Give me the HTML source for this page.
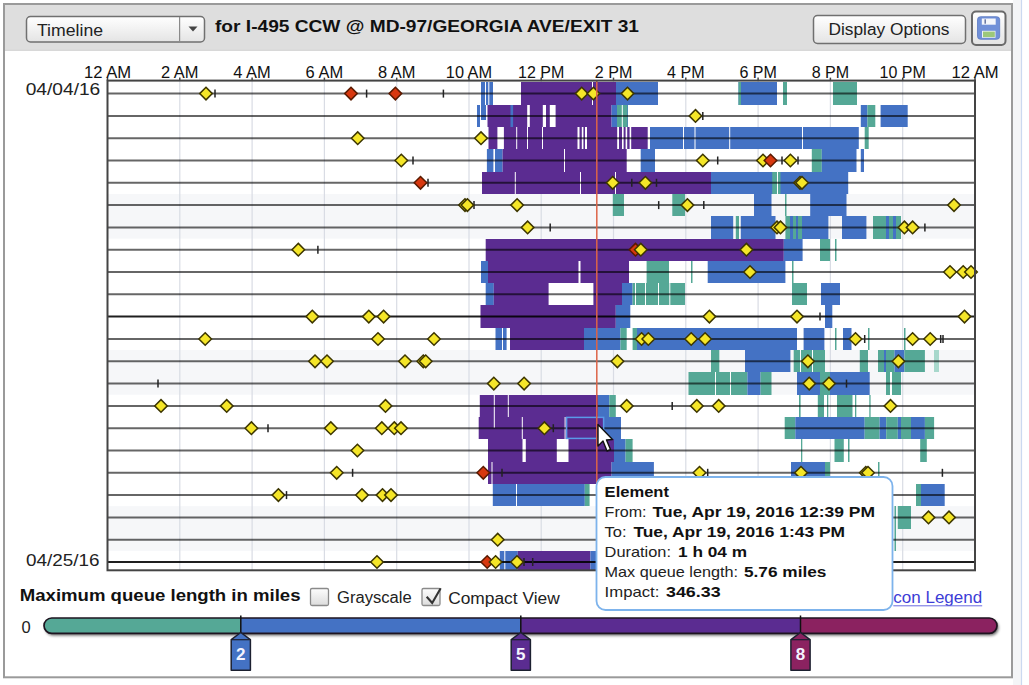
<!DOCTYPE html>
<html><head><meta charset="utf-8">
<style>
html,body{margin:0;padding:0;background:#fff;width:1029px;height:685px;overflow:hidden;}
body{position:relative;font-family:"Liberation Sans",sans-serif;}
svg{position:absolute;left:0;top:0;}
</style></head><body>
<svg width="1029" height="685" viewBox="0 0 1029 685">
<defs>
<linearGradient id="btn" x1="0" y1="0" x2="0" y2="1"><stop offset="0" stop-color="#ffffff"/><stop offset="1" stop-color="#e4e4e4"/></linearGradient>
<linearGradient id="cb" x1="0" y1="0" x2="0" y2="1"><stop offset="0" stop-color="#fdfdfd"/><stop offset="1" stop-color="#dcdcdc"/></linearGradient>
</defs>
<!-- outside right strip -->
<rect x="1013" y="0" width="8" height="685" fill="#f4f5f7"/>
<line x1="1021.5" y1="0" x2="1021.5" y2="685" stroke="#cbd9f0" stroke-width="1.2"/>
<!-- panel -->
<rect x="4" y="4" width="1008" height="673.3" fill="#fff" stroke="#9a9a9a" stroke-width="2"/>
<rect x="5" y="5" width="1006" height="45" fill="#dedede"/>
<line x1="5" y1="50.3" x2="1011" y2="50.3" stroke="#cfcfcf" stroke-width="1"/>
<!-- dropdown -->
<rect x="26.5" y="16.5" width="178" height="25.5" rx="4" fill="url(#btn)" stroke="#707070" stroke-width="1.5"/>
<line x1="179.6" y1="17" x2="179.6" y2="41.5" stroke="#8a8a8a" stroke-width="1.2"/>
<path d="M188.5 26.5 L197.5 26.5 L193 31.5 Z" fill="#444"/>
<text x="37" y="35.5" font-size="15.8" fill="#222" textLength="66" lengthAdjust="spacingAndGlyphs" font-family="Liberation Sans, sans-serif">Timeline</text>
<text x="215" y="32.2" font-size="16" font-weight="bold" fill="#111" textLength="424" lengthAdjust="spacingAndGlyphs" font-family="Liberation Sans, sans-serif">for I-495 CCW @ MD-97/GEORGIA AVE/EXIT 31</text>
<!-- display options -->
<rect x="813.5" y="15.5" width="152" height="28" rx="4" fill="url(#btn)" stroke="#707070" stroke-width="1.5"/>
<text x="828.5" y="34.5" font-size="15.8" fill="#222" textLength="121" lengthAdjust="spacingAndGlyphs" font-family="Liberation Sans, sans-serif">Display Options</text>
<!-- save -->
<rect x="972" y="11.5" width="33.5" height="33.5" rx="4" fill="url(#btn)" stroke="#6a6a6a" stroke-width="2"/>
<rect x="977.5" y="16.7" width="22.2" height="22.6" rx="3" fill="#7090d8" stroke="#5a78c4" stroke-width="0.8"/>
<rect x="981.8" y="18.5" width="13.9" height="6.2" fill="#f4f6fb"/>
<rect x="984.5" y="19.3" width="1.4" height="4.4" fill="#5a6a9a"/>
<rect x="982" y="30.8" width="13.5" height="7" fill="#eef3f8"/>
<rect x="983" y="31.6" width="11.8" height="5.5" fill="#9cc87a"/>
<!-- chart -->
<rect x="107.5" y="194.0" width="867.5" height="44.6" fill="#f6f7f9"/>
<rect x="107.5" y="350.1" width="867.5" height="44.6" fill="#f6f7f9"/>
<rect x="107.5" y="506.2" width="867.5" height="44.6" fill="#f6f7f9"/>
<line x1="179.8" y1="80.6" x2="179.8" y2="570.3" stroke="#d9dce4" stroke-width="1.2"/>
<line x1="252.1" y1="80.6" x2="252.1" y2="570.3" stroke="#d9dce4" stroke-width="1.2"/>
<line x1="324.4" y1="80.6" x2="324.4" y2="570.3" stroke="#d9dce4" stroke-width="1.2"/>
<line x1="396.7" y1="80.6" x2="396.7" y2="570.3" stroke="#d9dce4" stroke-width="1.2"/>
<line x1="469.0" y1="80.6" x2="469.0" y2="570.3" stroke="#d9dce4" stroke-width="1.2"/>
<line x1="541.2" y1="80.6" x2="541.2" y2="570.3" stroke="#d9dce4" stroke-width="1.2"/>
<line x1="613.5" y1="80.6" x2="613.5" y2="570.3" stroke="#d9dce4" stroke-width="1.2"/>
<line x1="685.8" y1="80.6" x2="685.8" y2="570.3" stroke="#d9dce4" stroke-width="1.2"/>
<line x1="758.1" y1="80.6" x2="758.1" y2="570.3" stroke="#d9dce4" stroke-width="1.2"/>
<line x1="830.4" y1="80.6" x2="830.4" y2="570.3" stroke="#d9dce4" stroke-width="1.2"/>
<line x1="902.7" y1="80.6" x2="902.7" y2="570.3" stroke="#d9dce4" stroke-width="1.2"/>
<rect x="481" y="82.0" width="12.0" height="23.0" fill="#4472c4"/>
<rect x="485" y="82.0" width="1.0" height="23.0" fill="#ffffff"/>
<rect x="488.3" y="82.0" width="1.0" height="23.0" fill="#ffffff"/>
<rect x="521" y="82.0" width="95.0" height="23.0" fill="#5b2c91"/>
<rect x="592" y="82.0" width="1.0" height="23.0" fill="#ffffff"/>
<rect x="616" y="82.0" width="42.0" height="23.0" fill="#4472c4"/>
<rect x="738.5" y="82.0" width="38.5" height="23.0" fill="#4472c4"/>
<rect x="738.5" y="82.0" width="2.5" height="23.0" fill="#55a896"/>
<rect x="783" y="82.0" width="4.0" height="23.0" fill="#55a896"/>
<rect x="833" y="82.0" width="24.0" height="23.0" fill="#55a896"/>
<rect x="477" y="105.0" width="3.0" height="22.0" fill="#4472c4"/>
<rect x="481" y="105.0" width="5.0" height="15.0" fill="#4472c4"/>
<rect x="487.5" y="105.0" width="124.1" height="22.0" fill="#5b2c91"/>
<rect x="510.5" y="105.0" width="2.6" height="22.0" fill="#4472c4"/>
<rect x="527.2" y="105.0" width="2.6" height="22.0" fill="#ffffff"/>
<rect x="542.8" y="105.0" width="3.2" height="22.0" fill="#ffffff"/>
<rect x="549.8" y="105.0" width="5.8" height="22.0" fill="#ffffff"/>
<rect x="611.6" y="105.0" width="16.4" height="22.0" fill="#4472c4"/>
<rect x="617" y="105.0" width="10.5" height="22.0" fill="#55a896"/>
<rect x="621.8" y="105.0" width="1.0" height="22.0" fill="#ffffff"/>
<rect x="860.8" y="105.0" width="6.6" height="22.0" fill="#4472c4"/>
<rect x="867.4" y="105.0" width="7.9" height="22.0" fill="#55a896"/>
<rect x="880.6" y="105.0" width="27.1" height="22.0" fill="#4472c4"/>
<rect x="488.5" y="127.0" width="159.2" height="22.0" fill="#5b2c91"/>
<rect x="497.4" y="127.0" width="6.5" height="22.0" fill="#ffffff"/>
<rect x="516.2" y="127.0" width="1.0" height="22.0" fill="#ffffff"/>
<rect x="527" y="127.0" width="1.0" height="22.0" fill="#ffffff"/>
<rect x="542" y="127.0" width="1.0" height="22.0" fill="#ffffff"/>
<rect x="577.5" y="127.0" width="2.0" height="22.0" fill="#ffffff"/>
<rect x="581.8" y="127.0" width="1.6" height="22.0" fill="#ffffff"/>
<rect x="585" y="127.0" width="2.0" height="22.0" fill="#ffffff"/>
<rect x="617.2" y="127.0" width="1.8" height="22.0" fill="#ffffff"/>
<rect x="622" y="127.0" width="1.6" height="22.0" fill="#ffffff"/>
<rect x="625.6" y="127.0" width="1.6" height="22.0" fill="#ffffff"/>
<rect x="629.6" y="127.0" width="1.6" height="22.0" fill="#ffffff"/>
<rect x="650" y="127.0" width="208.8" height="22.0" fill="#4472c4"/>
<rect x="683" y="127.0" width="1.0" height="22.0" fill="#ffffff"/>
<rect x="694.5" y="127.0" width="1.0" height="22.0" fill="#ffffff"/>
<rect x="729.2" y="127.0" width="1.0" height="22.0" fill="#ffffff"/>
<rect x="802" y="127.0" width="1.0" height="22.0" fill="#ffffff"/>
<rect x="864.7" y="127.0" width="4.0" height="22.0" fill="#55a896"/>
<rect x="486.9" y="149.0" width="15.7" height="23.0" fill="#4472c4"/>
<rect x="493.4" y="149.0" width="1.6" height="23.0" fill="#ffffff"/>
<rect x="502.6" y="149.0" width="124.1" height="23.0" fill="#5b2c91"/>
<rect x="564" y="149.0" width="1.0" height="23.0" fill="#ffffff"/>
<rect x="640.7" y="149.0" width="14.3" height="23.0" fill="#4472c4"/>
<rect x="811.8" y="149.0" width="10.0" height="23.0" fill="#55a896"/>
<rect x="821.8" y="149.0" width="34.7" height="23.0" fill="#4472c4"/>
<rect x="860.8" y="149.0" width="3.2" height="23.0" fill="#4472c4"/>
<rect x="482" y="172.0" width="229.0" height="22.0" fill="#5b2c91"/>
<rect x="514.8" y="172.0" width="1.0" height="22.0" fill="#ffffff"/>
<rect x="580" y="172.0" width="1.0" height="22.0" fill="#ffffff"/>
<rect x="615" y="172.0" width="1.0" height="22.0" fill="#ffffff"/>
<rect x="711" y="172.0" width="137.2" height="22.0" fill="#4472c4"/>
<rect x="772.2" y="172.0" width="8.3" height="22.0" fill="#55a896"/>
<rect x="777" y="172.0" width="1.0" height="22.0" fill="#ffffff"/>
<rect x="612.8" y="194.0" width="11.2" height="22.0" fill="#55a896"/>
<rect x="672.3" y="194.0" width="12.7" height="22.0" fill="#55a896"/>
<rect x="754" y="194.0" width="17.5" height="22.0" fill="#4472c4"/>
<rect x="785" y="194.0" width="1.5" height="22.0" fill="#55a896"/>
<rect x="810.2" y="194.0" width="36.3" height="22.0" fill="#4472c4"/>
<rect x="711" y="216.0" width="22.2" height="23.0" fill="#4472c4"/>
<rect x="735.8" y="216.0" width="3.2" height="23.0" fill="#55a896"/>
<rect x="740.8" y="216.0" width="34.7" height="23.0" fill="#4472c4"/>
<rect x="785.4" y="216.0" width="16.6" height="23.0" fill="#55a896"/>
<rect x="790" y="216.0" width="3.0" height="23.0" fill="#4472c4"/>
<rect x="796" y="216.0" width="2.0" height="23.0" fill="#4472c4"/>
<rect x="802" y="216.0" width="26.4" height="23.0" fill="#4472c4"/>
<rect x="842" y="216.0" width="24.4" height="23.0" fill="#4472c4"/>
<rect x="873" y="216.0" width="28.0" height="23.0" fill="#55a896"/>
<rect x="886" y="216.0" width="3.0" height="23.0" fill="#4472c4"/>
<rect x="893" y="216.0" width="3.0" height="23.0" fill="#4472c4"/>
<rect x="485.7" y="239.0" width="298.1" height="22.0" fill="#5b2c91"/>
<rect x="783.8" y="239.0" width="18.8" height="22.0" fill="#4472c4"/>
<rect x="820" y="239.0" width="10.0" height="22.0" fill="#55a896"/>
<rect x="835" y="239.0" width="1.5" height="22.0" fill="#55a896"/>
<rect x="481" y="261.0" width="7.0" height="22.0" fill="#4472c4"/>
<rect x="488" y="261.0" width="141.0" height="22.0" fill="#5b2c91"/>
<rect x="578.5" y="261.0" width="2.0" height="22.0" fill="#ffffff"/>
<rect x="646.6" y="261.0" width="22.4" height="22.0" fill="#55a896"/>
<rect x="691" y="261.0" width="1.5" height="22.0" fill="#55a896"/>
<rect x="707.7" y="261.0" width="77.7" height="22.0" fill="#4472c4"/>
<rect x="792" y="261.0" width="1.5" height="22.0" fill="#55a896"/>
<rect x="485.7" y="283.0" width="8.1" height="22.0" fill="#4472c4"/>
<rect x="493.8" y="283.0" width="132.9" height="22.0" fill="#5b2c91"/>
<rect x="548.6" y="283.0" width="44.8" height="22.0" fill="#ffffff"/>
<rect x="622" y="283.0" width="10.6" height="22.0" fill="#4472c4"/>
<rect x="632.6" y="283.0" width="52.4" height="22.0" fill="#55a896"/>
<rect x="635" y="283.0" width="1.0" height="22.0" fill="#ffffff"/>
<rect x="645" y="283.0" width="1.0" height="22.0" fill="#ffffff"/>
<rect x="658" y="283.0" width="1.0" height="22.0" fill="#ffffff"/>
<rect x="669.3" y="283.0" width="1.0" height="22.0" fill="#ffffff"/>
<rect x="792" y="283.0" width="15.0" height="22.0" fill="#55a896"/>
<rect x="821" y="283.0" width="19.0" height="22.0" fill="#4472c4"/>
<rect x="480.5" y="305.0" width="135.3" height="23.0" fill="#5b2c91"/>
<rect x="615.8" y="305.0" width="14.5" height="23.0" fill="#4472c4"/>
<rect x="825" y="305.0" width="7.3" height="23.0" fill="#4472c4"/>
<rect x="495.5" y="328.0" width="11.1" height="22.0" fill="#4472c4"/>
<rect x="502" y="328.0" width="1.0" height="22.0" fill="#ffffff"/>
<rect x="510" y="328.0" width="74.0" height="22.0" fill="#5b2c91"/>
<rect x="584" y="328.0" width="36.5" height="22.0" fill="#4472c4"/>
<rect x="620.5" y="328.0" width="6.2" height="22.0" fill="#55a896"/>
<rect x="632.6" y="328.0" width="4.4" height="22.0" fill="#55a896"/>
<rect x="637" y="328.0" width="160.0" height="22.0" fill="#4472c4"/>
<rect x="803.6" y="328.0" width="20.8" height="22.0" fill="#4472c4"/>
<rect x="835" y="328.0" width="1.5" height="22.0" fill="#55a896"/>
<rect x="843" y="328.0" width="8.5" height="22.0" fill="#4472c4"/>
<rect x="868" y="328.0" width="1.5" height="22.0" fill="#55a896"/>
<rect x="904" y="328.0" width="1.5" height="22.0" fill="#55a896"/>
<rect x="711" y="350.0" width="8.3" height="22.0" fill="#55a896"/>
<rect x="745" y="350.0" width="45.4" height="22.0" fill="#4472c4"/>
<rect x="793.7" y="350.0" width="31.3" height="22.0" fill="#55a896"/>
<rect x="800" y="350.0" width="1.0" height="22.0" fill="#ffffff"/>
<rect x="812" y="350.0" width="1.0" height="22.0" fill="#ffffff"/>
<rect x="859.8" y="350.0" width="8.2" height="22.0" fill="#55a896"/>
<rect x="878" y="350.0" width="16.5" height="22.0" fill="#55a896"/>
<rect x="884" y="350.0" width="2.0" height="22.0" fill="#4472c4"/>
<rect x="894.5" y="350.0" width="9.9" height="22.0" fill="#4472c4"/>
<rect x="904.4" y="350.0" width="20.5" height="22.0" fill="#55a896"/>
<rect x="934" y="350.0" width="5.0" height="22.0" fill="#a8d8cc"/>
<rect x="688.5" y="372.0" width="58.9" height="23.0" fill="#55a896"/>
<rect x="715" y="372.0" width="1.0" height="23.0" fill="#ffffff"/>
<rect x="730" y="372.0" width="1.0" height="23.0" fill="#ffffff"/>
<rect x="747.4" y="372.0" width="13.2" height="23.0" fill="#4472c4"/>
<rect x="760.6" y="372.0" width="10.9" height="23.0" fill="#55a896"/>
<rect x="797" y="372.0" width="23.0" height="23.0" fill="#4472c4"/>
<rect x="820" y="372.0" width="10.0" height="23.0" fill="#55a896"/>
<rect x="830" y="372.0" width="39.7" height="23.0" fill="#4472c4"/>
<rect x="886" y="372.0" width="15.0" height="23.0" fill="#55a896"/>
<rect x="890" y="372.0" width="2.0" height="23.0" fill="#ffffff"/>
<rect x="479.8" y="395.0" width="118.2" height="22.0" fill="#5b2c91"/>
<rect x="493.8" y="395.0" width="1.0" height="22.0" fill="#ffffff"/>
<rect x="507.8" y="395.0" width="1.0" height="22.0" fill="#ffffff"/>
<rect x="598" y="395.0" width="11.3" height="22.0" fill="#4472c4"/>
<rect x="609.3" y="395.0" width="6.5" height="22.0" fill="#55a896"/>
<rect x="799" y="395.0" width="1.6" height="22.0" fill="#55a896"/>
<rect x="817.8" y="395.0" width="6.2" height="22.0" fill="#55a896"/>
<rect x="827" y="395.0" width="1.3" height="22.0" fill="#55a896"/>
<rect x="837" y="395.0" width="15.5" height="22.0" fill="#55a896"/>
<rect x="855" y="395.0" width="1.3" height="22.0" fill="#55a896"/>
<rect x="869.3" y="395.0" width="1.3" height="22.0" fill="#55a896"/>
<rect x="478.7" y="417.0" width="125.3" height="22.0" fill="#5b2c91"/>
<rect x="564.6" y="417.0" width="1.0" height="22.0" fill="#ffffff"/>
<rect x="493.8" y="417.0" width="1.0" height="11.0" fill="#ffffff"/>
<rect x="521.8" y="417.0" width="1.0" height="22.0" fill="#ffffff"/>
<rect x="604" y="417.0" width="17.0" height="22.0" fill="#4472c4"/>
<rect x="784.7" y="417.0" width="10.6" height="22.0" fill="#55a896"/>
<rect x="795.3" y="417.0" width="69.4" height="22.0" fill="#4472c4"/>
<rect x="864.7" y="417.0" width="14.9" height="22.0" fill="#55a896"/>
<rect x="879.6" y="417.0" width="6.6" height="22.0" fill="#4472c4"/>
<rect x="886.2" y="417.0" width="11.6" height="22.0" fill="#55a896"/>
<rect x="897.8" y="417.0" width="3.2" height="22.0" fill="#4472c4"/>
<rect x="901" y="417.0" width="10.0" height="22.0" fill="#55a896"/>
<rect x="911" y="417.0" width="13.9" height="22.0" fill="#4472c4"/>
<rect x="924.9" y="417.0" width="9.2" height="22.0" fill="#55a896"/>
<rect x="488" y="439.0" width="126.0" height="23.0" fill="#5b2c91"/>
<rect x="522.5" y="439.0" width="3.3" height="23.0" fill="#ffffff"/>
<rect x="556.8" y="439.0" width="11.7" height="23.0" fill="#ffffff"/>
<rect x="614" y="439.0" width="11.6" height="23.0" fill="#4472c4"/>
<rect x="625.6" y="439.0" width="7.0" height="23.0" fill="#55a896"/>
<rect x="801" y="439.0" width="1.3" height="23.0" fill="#55a896"/>
<rect x="834.5" y="439.0" width="9.3" height="23.0" fill="#55a896"/>
<rect x="848" y="439.0" width="1.5" height="23.0" fill="#55a896"/>
<rect x="920.2" y="439.0" width="6.6" height="23.0" fill="#55a896"/>
<rect x="488" y="462.0" width="123.6" height="22.0" fill="#5b2c91"/>
<rect x="491.5" y="462.0" width="1.0" height="22.0" fill="#ffffff"/>
<rect x="611.6" y="462.0" width="42.3" height="22.0" fill="#4472c4"/>
<rect x="791" y="462.0" width="34.0" height="22.0" fill="#4472c4"/>
<rect x="825" y="462.0" width="5.0" height="22.0" fill="#55a896"/>
<rect x="878" y="462.0" width="1.5" height="22.0" fill="#55a896"/>
<rect x="492.8" y="484.0" width="92.0" height="22.0" fill="#4472c4"/>
<rect x="516" y="484.0" width="1.0" height="22.0" fill="#ffffff"/>
<rect x="584.8" y="484.0" width="4.8" height="22.0" fill="#55a896"/>
<rect x="916" y="484.0" width="5.0" height="22.0" fill="#55a896"/>
<rect x="921" y="484.0" width="23.7" height="22.0" fill="#4472c4"/>
<rect x="897.8" y="506.0" width="13.2" height="23.0" fill="#55a896"/>
<rect x="894.5" y="506.0" width="1.5" height="23.0" fill="#55a896"/>
<rect x="894.5" y="529.0" width="1.5" height="22.0" fill="#55a896"/>
<rect x="499.8" y="551.0" width="18.0" height="19.3" fill="#4472c4"/>
<rect x="504.3" y="551.0" width="1.0" height="19.3" fill="#ffffff"/>
<rect x="517.8" y="551.0" width="72.6" height="19.3" fill="#5b2c91"/>
<rect x="590.4" y="551.0" width="5.6" height="19.3" fill="#4472c4"/>
<line x1="107.5" y1="93.6" x2="975.0" y2="93.6" stroke="#000" stroke-opacity="0.6" stroke-width="2"/>
<line x1="107.5" y1="115.9" x2="975.0" y2="115.9" stroke="#000" stroke-opacity="0.6" stroke-width="2"/>
<line x1="107.5" y1="138.2" x2="975.0" y2="138.2" stroke="#000" stroke-opacity="0.6" stroke-width="2"/>
<line x1="107.5" y1="160.5" x2="975.0" y2="160.5" stroke="#000" stroke-opacity="0.6" stroke-width="2"/>
<line x1="107.5" y1="182.8" x2="975.0" y2="182.8" stroke="#000" stroke-opacity="0.6" stroke-width="2"/>
<line x1="107.5" y1="205.1" x2="975.0" y2="205.1" stroke="#000" stroke-opacity="0.6" stroke-width="2"/>
<line x1="107.5" y1="227.4" x2="975.0" y2="227.4" stroke="#000" stroke-opacity="0.6" stroke-width="2"/>
<line x1="107.5" y1="249.7" x2="975.0" y2="249.7" stroke="#000" stroke-opacity="0.6" stroke-width="2"/>
<line x1="107.5" y1="272.0" x2="975.0" y2="272.0" stroke="#000" stroke-opacity="0.6" stroke-width="2"/>
<line x1="107.5" y1="294.3" x2="975.0" y2="294.3" stroke="#000" stroke-opacity="0.6" stroke-width="2"/>
<line x1="107.5" y1="316.6" x2="975.0" y2="316.6" stroke="#000" stroke-opacity="0.88" stroke-width="2"/>
<line x1="107.5" y1="339.0" x2="975.0" y2="339.0" stroke="#000" stroke-opacity="0.6" stroke-width="2"/>
<line x1="107.5" y1="361.3" x2="975.0" y2="361.3" stroke="#000" stroke-opacity="0.6" stroke-width="2"/>
<line x1="107.5" y1="383.6" x2="975.0" y2="383.6" stroke="#000" stroke-opacity="0.6" stroke-width="2"/>
<line x1="107.5" y1="405.9" x2="975.0" y2="405.9" stroke="#000" stroke-opacity="0.6" stroke-width="2"/>
<line x1="107.5" y1="428.2" x2="975.0" y2="428.2" stroke="#000" stroke-opacity="0.6" stroke-width="2"/>
<line x1="107.5" y1="450.5" x2="975.0" y2="450.5" stroke="#000" stroke-opacity="0.6" stroke-width="2"/>
<line x1="107.5" y1="472.8" x2="975.0" y2="472.8" stroke="#000" stroke-opacity="0.6" stroke-width="2"/>
<line x1="107.5" y1="495.1" x2="975.0" y2="495.1" stroke="#000" stroke-opacity="0.6" stroke-width="2"/>
<line x1="107.5" y1="517.4" x2="975.0" y2="517.4" stroke="#000" stroke-opacity="0.6" stroke-width="2"/>
<line x1="107.5" y1="539.7" x2="975.0" y2="539.7" stroke="#000" stroke-opacity="0.6" stroke-width="2"/>
<line x1="107.5" y1="562.0" x2="975.0" y2="562.0" stroke="#000" stroke-opacity="0.88" stroke-width="2"/>
<rect x="566.6" y="417.4" width="37" height="21" fill="none" stroke="#5a9ae8" stroke-width="1.5"/>
<line x1="215" y1="89.6" x2="215" y2="97.6" stroke="#222" stroke-width="1.5"/>
<line x1="366.6" y1="89.6" x2="366.6" y2="97.6" stroke="#222" stroke-width="1.5"/>
<line x1="443.4" y1="89.6" x2="443.4" y2="97.6" stroke="#222" stroke-width="1.5"/>
<path d="M206 87.3L212.3 93.6L206 99.9L199.7 93.6Z" fill="#f5e628" stroke="#3d3600" stroke-width="1.5"/>
<path d="M351 87.3L357.3 93.6L351 99.9L344.7 93.6Z" fill="#d8380f" stroke="#5a1a00" stroke-width="1.5"/>
<path d="M395.4 87.3L401.7 93.6L395.4 99.9L389.09999999999997 93.6Z" fill="#d8380f" stroke="#5a1a00" stroke-width="1.5"/>
<path d="M581.7 87.3L588.0 93.6L581.7 99.9L575.4000000000001 93.6Z" fill="#f5e628" stroke="#3d3600" stroke-width="1.5"/>
<path d="M593.4 87.3L599.6999999999999 93.6L593.4 99.9L587.1 93.6Z" fill="#f5e628" stroke="#3d3600" stroke-width="1.5"/>
<path d="M627.5 87.3L633.8 93.6L627.5 99.9L621.2 93.6Z" fill="#f5e628" stroke="#3d3600" stroke-width="1.5"/>
<line x1="702.8" y1="111.9" x2="702.8" y2="119.9" stroke="#222" stroke-width="1.5"/>
<path d="M695.5 109.6L701.8 115.9L695.5 122.2L689.2 115.9Z" fill="#f5e628" stroke="#3d3600" stroke-width="1.5"/>
<path d="M357.7 131.9L364.0 138.2L357.7 144.5L351.4 138.2Z" fill="#f5e628" stroke="#3d3600" stroke-width="1.5"/>
<path d="M481 131.9L487.3 138.2L481 144.5L474.7 138.2Z" fill="#f5e628" stroke="#3d3600" stroke-width="1.5"/>
<line x1="413" y1="156.5" x2="413" y2="164.5" stroke="#222" stroke-width="1.5"/>
<line x1="717.7" y1="156.5" x2="717.7" y2="164.5" stroke="#222" stroke-width="1.5"/>
<line x1="782" y1="156.5" x2="782" y2="164.5" stroke="#222" stroke-width="1.5"/>
<line x1="798" y1="156.5" x2="798" y2="164.5" stroke="#222" stroke-width="1.5"/>
<path d="M401.3 154.2L407.6 160.5L401.3 166.8L395.0 160.5Z" fill="#f5e628" stroke="#3d3600" stroke-width="1.5"/>
<path d="M702.8 154.2L709.0999999999999 160.5L702.8 166.8L696.5 160.5Z" fill="#f5e628" stroke="#3d3600" stroke-width="1.5"/>
<path d="M763 154.2L769.3 160.5L763 166.8L756.7 160.5Z" fill="#f5e628" stroke="#3d3600" stroke-width="1.5"/>
<path d="M770.5 154.2L776.8 160.5L770.5 166.8L764.2 160.5Z" fill="#d8380f" stroke="#5a1a00" stroke-width="1.5"/>
<path d="M790.4 154.2L796.6999999999999 160.5L790.4 166.8L784.1 160.5Z" fill="#f5e628" stroke="#3d3600" stroke-width="1.5"/>
<line x1="428" y1="178.8" x2="428" y2="186.8" stroke="#222" stroke-width="1.5"/>
<line x1="631.8" y1="178.8" x2="631.8" y2="186.8" stroke="#222" stroke-width="1.5"/>
<line x1="656.5" y1="178.8" x2="656.5" y2="186.8" stroke="#222" stroke-width="1.5"/>
<path d="M420.5 176.5L426.8 182.8L420.5 189.1L414.2 182.8Z" fill="#d8380f" stroke="#5a1a00" stroke-width="1.5"/>
<path d="M612.7 176.5L619.0 182.8L612.7 189.1L606.4000000000001 182.8Z" fill="#f5e628" stroke="#3d3600" stroke-width="1.5"/>
<path d="M645.4 176.5L651.6999999999999 182.8L645.4 189.1L639.1 182.8Z" fill="#f5e628" stroke="#3d3600" stroke-width="1.5"/>
<path d="M800 176.5L806.3 182.8L800 189.1L793.7 182.8Z" fill="#f5e628" stroke="#3d3600" stroke-width="1.5"/>
<path d="M802 176.5L808.3 182.8L802 189.1L795.7 182.8Z" fill="#f5e628" stroke="#3d3600" stroke-width="1.5"/>
<line x1="474" y1="201.1" x2="474" y2="209.1" stroke="#222" stroke-width="1.5"/>
<line x1="658.7" y1="201.1" x2="658.7" y2="209.1" stroke="#222" stroke-width="1.5"/>
<line x1="703.8" y1="201.1" x2="703.8" y2="209.1" stroke="#222" stroke-width="1.5"/>
<path d="M465 198.8L471.3 205.1L465 211.4L458.7 205.1Z" fill="#f5e628" stroke="#3d3600" stroke-width="1.5"/>
<path d="M467.4 198.8L473.7 205.1L467.4 211.4L461.09999999999997 205.1Z" fill="#f5e628" stroke="#3d3600" stroke-width="1.5"/>
<path d="M517.1 198.8L523.4 205.1L517.1 211.4L510.8 205.1Z" fill="#f5e628" stroke="#3d3600" stroke-width="1.5"/>
<path d="M687.4 198.8L693.6999999999999 205.1L687.4 211.4L681.1 205.1Z" fill="#f5e628" stroke="#3d3600" stroke-width="1.5"/>
<path d="M954 198.8L960.3 205.1L954 211.4L947.7 205.1Z" fill="#f5e628" stroke="#3d3600" stroke-width="1.5"/>
<line x1="550.2" y1="223.4" x2="550.2" y2="231.4" stroke="#222" stroke-width="1.5"/>
<line x1="924.9" y1="223.4" x2="924.9" y2="231.4" stroke="#222" stroke-width="1.5"/>
<path d="M527.6 221.1L533.9 227.4L527.6 233.7L521.3000000000001 227.4Z" fill="#f5e628" stroke="#3d3600" stroke-width="1.5"/>
<path d="M777 221.1L783.3 227.4L777 233.7L770.7 227.4Z" fill="#f5e628" stroke="#3d3600" stroke-width="1.5"/>
<path d="M780.5 221.1L786.8 227.4L780.5 233.7L774.2 227.4Z" fill="#f5e628" stroke="#3d3600" stroke-width="1.5"/>
<path d="M904.4 221.1L910.6999999999999 227.4L904.4 233.7L898.1 227.4Z" fill="#f5e628" stroke="#3d3600" stroke-width="1.5"/>
<path d="M912.6 221.1L918.9 227.4L912.6 233.7L906.3000000000001 227.4Z" fill="#f5e628" stroke="#3d3600" stroke-width="1.5"/>
<line x1="317.9" y1="245.7" x2="317.9" y2="253.7" stroke="#222" stroke-width="1.5"/>
<path d="M298.3 243.4L304.6 249.7L298.3 256.0L292.0 249.7Z" fill="#f5e628" stroke="#3d3600" stroke-width="1.5"/>
<path d="M635.5 243.4L641.8 249.7L635.5 256.0L629.2 249.7Z" fill="#d8380f" stroke="#5a1a00" stroke-width="1.5"/>
<path d="M640.8 243.4L647.0999999999999 249.7L640.8 256.0L634.5 249.7Z" fill="#f5e628" stroke="#3d3600" stroke-width="1.5"/>
<path d="M746.4 243.4L752.6999999999999 249.7L746.4 256.0L740.1 249.7Z" fill="#f5e628" stroke="#3d3600" stroke-width="1.5"/>
<path d="M750 265.7L756.3 272.0L750 278.3L743.7 272.0Z" fill="#f5e628" stroke="#3d3600" stroke-width="1.5"/>
<path d="M950 265.7L956.3 272.0L950 278.3L943.7 272.0Z" fill="#f5e628" stroke="#3d3600" stroke-width="1.5"/>
<path d="M963.2 265.7L969.5 272.0L963.2 278.3L956.9000000000001 272.0Z" fill="#f5e628" stroke="#3d3600" stroke-width="1.5"/>
<path d="M971 265.7L977.3 272.0L971 278.3L964.7 272.0Z" fill="#f5e628" stroke="#3d3600" stroke-width="1.5"/>
<line x1="820" y1="312.6" x2="820" y2="320.6" stroke="#222" stroke-width="1.5"/>
<path d="M312.3 310.3L318.6 316.6L312.3 322.9L306.0 316.6Z" fill="#f5e628" stroke="#3d3600" stroke-width="1.5"/>
<path d="M368.8 310.3L375.1 316.6L368.8 322.9L362.5 316.6Z" fill="#f5e628" stroke="#3d3600" stroke-width="1.5"/>
<path d="M383.6 310.3L389.90000000000003 316.6L383.6 322.9L377.3 316.6Z" fill="#f5e628" stroke="#3d3600" stroke-width="1.5"/>
<path d="M709.4 310.3L715.6999999999999 316.6L709.4 322.9L703.1 316.6Z" fill="#f5e628" stroke="#3d3600" stroke-width="1.5"/>
<path d="M797 310.3L803.3 316.6L797 322.9L790.7 316.6Z" fill="#f5e628" stroke="#3d3600" stroke-width="1.5"/>
<path d="M964.5 310.3L970.8 316.6L964.5 322.9L958.2 316.6Z" fill="#f5e628" stroke="#3d3600" stroke-width="1.5"/>
<line x1="864.7" y1="335.0" x2="864.7" y2="343.0" stroke="#222" stroke-width="1.5"/>
<line x1="940.7" y1="335.0" x2="940.7" y2="343.0" stroke="#222" stroke-width="1.5"/>
<line x1="943" y1="335.0" x2="943" y2="343.0" stroke="#222" stroke-width="1.5"/>
<path d="M205.2 332.7L211.5 339.0L205.2 345.3L198.89999999999998 339.0Z" fill="#f5e628" stroke="#3d3600" stroke-width="1.5"/>
<path d="M378 332.7L384.3 339.0L378 345.3L371.7 339.0Z" fill="#f5e628" stroke="#3d3600" stroke-width="1.5"/>
<path d="M434 332.7L440.3 339.0L434 345.3L427.7 339.0Z" fill="#f5e628" stroke="#3d3600" stroke-width="1.5"/>
<path d="M641.6 332.7L647.9 339.0L641.6 345.3L635.3000000000001 339.0Z" fill="#f5e628" stroke="#3d3600" stroke-width="1.5"/>
<path d="M648.3 332.7L654.5999999999999 339.0L648.3 345.3L642.0 339.0Z" fill="#f5e628" stroke="#3d3600" stroke-width="1.5"/>
<path d="M691.2 332.7L697.5 339.0L691.2 345.3L684.9000000000001 339.0Z" fill="#f5e628" stroke="#3d3600" stroke-width="1.5"/>
<path d="M705.1 332.7L711.4 339.0L705.1 345.3L698.8000000000001 339.0Z" fill="#f5e628" stroke="#3d3600" stroke-width="1.5"/>
<path d="M855.5 332.7L861.8 339.0L855.5 345.3L849.2 339.0Z" fill="#f5e628" stroke="#3d3600" stroke-width="1.5"/>
<path d="M912.6 332.7L918.9 339.0L912.6 345.3L906.3000000000001 339.0Z" fill="#f5e628" stroke="#3d3600" stroke-width="1.5"/>
<path d="M930.2 332.7L936.5 339.0L930.2 345.3L923.9000000000001 339.0Z" fill="#f5e628" stroke="#3d3600" stroke-width="1.5"/>
<path d="M315 355.0L321.3 361.3L315 367.6L308.7 361.3Z" fill="#f5e628" stroke="#3d3600" stroke-width="1.5"/>
<path d="M327 355.0L333.3 361.3L327 367.6L320.7 361.3Z" fill="#f5e628" stroke="#3d3600" stroke-width="1.5"/>
<path d="M405 355.0L411.3 361.3L405 367.6L398.7 361.3Z" fill="#f5e628" stroke="#3d3600" stroke-width="1.5"/>
<path d="M423.3 355.0L429.6 361.3L423.3 367.6L417.0 361.3Z" fill="#f5e628" stroke="#3d3600" stroke-width="1.5"/>
<path d="M425.7 355.0L432.0 361.3L425.7 367.6L419.4 361.3Z" fill="#f5e628" stroke="#3d3600" stroke-width="1.5"/>
<path d="M617.4 355.0L623.6999999999999 361.3L617.4 367.6L611.1 361.3Z" fill="#f5e628" stroke="#3d3600" stroke-width="1.5"/>
<path d="M807.9 355.0L814.1999999999999 361.3L807.9 367.6L801.6 361.3Z" fill="#f5e628" stroke="#3d3600" stroke-width="1.5"/>
<path d="M898.4 355.0L904.6999999999999 361.3L898.4 367.6L892.1 361.3Z" fill="#f5e628" stroke="#3d3600" stroke-width="1.5"/>
<line x1="158" y1="379.6" x2="158" y2="387.6" stroke="#222" stroke-width="1.5"/>
<line x1="846.5" y1="379.6" x2="846.5" y2="387.6" stroke="#222" stroke-width="1.5"/>
<path d="M493.8 377.3L500.1 383.6L493.8 389.9L487.5 383.6Z" fill="#f5e628" stroke="#3d3600" stroke-width="1.5"/>
<path d="M524.1 377.3L530.4 383.6L524.1 389.9L517.8000000000001 383.6Z" fill="#f5e628" stroke="#3d3600" stroke-width="1.5"/>
<path d="M809.2 377.3L815.5 383.6L809.2 389.9L802.9000000000001 383.6Z" fill="#f5e628" stroke="#3d3600" stroke-width="1.5"/>
<path d="M829 377.3L835.3 383.6L829 389.9L822.7 383.6Z" fill="#f5e628" stroke="#3d3600" stroke-width="1.5"/>
<line x1="672.2" y1="401.9" x2="672.2" y2="409.9" stroke="#222" stroke-width="1.5"/>
<path d="M161 399.6L167.3 405.9L161 412.2L154.7 405.9Z" fill="#f5e628" stroke="#3d3600" stroke-width="1.5"/>
<path d="M226.7 399.6L233.0 405.9L226.7 412.2L220.39999999999998 405.9Z" fill="#f5e628" stroke="#3d3600" stroke-width="1.5"/>
<path d="M385.5 399.6L391.8 405.9L385.5 412.2L379.2 405.9Z" fill="#f5e628" stroke="#3d3600" stroke-width="1.5"/>
<path d="M626.7 399.6L633.0 405.9L626.7 412.2L620.4000000000001 405.9Z" fill="#f5e628" stroke="#3d3600" stroke-width="1.5"/>
<path d="M696.8 399.6L703.0999999999999 405.9L696.8 412.2L690.5 405.9Z" fill="#f5e628" stroke="#3d3600" stroke-width="1.5"/>
<path d="M718.7 399.6L725.0 405.9L718.7 412.2L712.4000000000001 405.9Z" fill="#f5e628" stroke="#3d3600" stroke-width="1.5"/>
<path d="M890.5 399.6L896.8 405.9L890.5 412.2L884.2 405.9Z" fill="#f5e628" stroke="#3d3600" stroke-width="1.5"/>
<line x1="268" y1="424.2" x2="268" y2="432.2" stroke="#222" stroke-width="1.5"/>
<line x1="553.3" y1="424.2" x2="553.3" y2="432.2" stroke="#222" stroke-width="1.5"/>
<path d="M251.4 421.9L257.7 428.2L251.4 434.5L245.1 428.2Z" fill="#f5e628" stroke="#3d3600" stroke-width="1.5"/>
<path d="M330.8 421.9L337.1 428.2L330.8 434.5L324.5 428.2Z" fill="#f5e628" stroke="#3d3600" stroke-width="1.5"/>
<path d="M381.8 421.9L388.1 428.2L381.8 434.5L375.5 428.2Z" fill="#f5e628" stroke="#3d3600" stroke-width="1.5"/>
<path d="M394.3 421.9L400.6 428.2L394.3 434.5L388.0 428.2Z" fill="#f5e628" stroke="#3d3600" stroke-width="1.5"/>
<path d="M401 421.9L407.3 428.2L401 434.5L394.7 428.2Z" fill="#f5e628" stroke="#3d3600" stroke-width="1.5"/>
<path d="M544.4 421.9L550.6999999999999 428.2L544.4 434.5L538.1 428.2Z" fill="#f5e628" stroke="#3d3600" stroke-width="1.5"/>
<path d="M357.4 444.2L363.7 450.5L357.4 456.8L351.09999999999997 450.5Z" fill="#f5e628" stroke="#3d3600" stroke-width="1.5"/>
<line x1="352.6" y1="468.8" x2="352.6" y2="476.8" stroke="#222" stroke-width="1.5"/>
<line x1="502" y1="468.8" x2="502" y2="476.8" stroke="#222" stroke-width="1.5"/>
<line x1="707.7" y1="468.8" x2="707.7" y2="476.8" stroke="#222" stroke-width="1.5"/>
<line x1="942.4" y1="468.8" x2="942.4" y2="476.8" stroke="#222" stroke-width="1.5"/>
<path d="M336.7 466.5L343.0 472.8L336.7 479.1L330.4 472.8Z" fill="#f5e628" stroke="#3d3600" stroke-width="1.5"/>
<path d="M483.3 466.5L489.6 472.8L483.3 479.1L477.0 472.8Z" fill="#d8380f" stroke="#5a1a00" stroke-width="1.5"/>
<path d="M699.5 466.5L705.8 472.8L699.5 479.1L693.2 472.8Z" fill="#f5e628" stroke="#3d3600" stroke-width="1.5"/>
<path d="M801 466.5L807.3 472.8L801 479.1L794.7 472.8Z" fill="#f5e628" stroke="#3d3600" stroke-width="1.5"/>
<path d="M865.8 466.5L872.0999999999999 472.8L865.8 479.1L859.5 472.8Z" fill="#f5e628" stroke="#3d3600" stroke-width="1.5"/>
<path d="M868 466.5L874.3 472.8L868 479.1L861.7 472.8Z" fill="#f5e628" stroke="#3d3600" stroke-width="1.5"/>
<line x1="286.5" y1="491.1" x2="286.5" y2="499.1" stroke="#222" stroke-width="1.5"/>
<path d="M278.4 488.8L284.7 495.1L278.4 501.4L272.09999999999997 495.1Z" fill="#f5e628" stroke="#3d3600" stroke-width="1.5"/>
<path d="M362 488.8L368.3 495.1L362 501.4L355.7 495.1Z" fill="#f5e628" stroke="#3d3600" stroke-width="1.5"/>
<path d="M382.5 488.8L388.8 495.1L382.5 501.4L376.2 495.1Z" fill="#f5e628" stroke="#3d3600" stroke-width="1.5"/>
<path d="M391 488.8L397.3 495.1L391 501.4L384.7 495.1Z" fill="#f5e628" stroke="#3d3600" stroke-width="1.5"/>
<path d="M928.5 511.1L934.8 517.4L928.5 523.7L922.2 517.4Z" fill="#f5e628" stroke="#3d3600" stroke-width="1.5"/>
<path d="M949 511.1L955.3 517.4L949 523.7L942.7 517.4Z" fill="#f5e628" stroke="#3d3600" stroke-width="1.5"/>
<path d="M497.7 533.4L504.0 539.7L497.7 546.0L491.4 539.7Z" fill="#f5e628" stroke="#3d3600" stroke-width="1.5"/>
<line x1="524" y1="558.0" x2="524" y2="566.0" stroke="#222" stroke-width="1.5"/>
<line x1="532.7" y1="558.0" x2="532.7" y2="566.0" stroke="#222" stroke-width="1.5"/>
<path d="M377 555.7L383.3 562.0L377 568.3L370.7 562.0Z" fill="#f5e628" stroke="#3d3600" stroke-width="1.5"/>
<path d="M487.2 555.7L493.5 562.0L487.2 568.3L480.9 562.0Z" fill="#d8380f" stroke="#5a1a00" stroke-width="1.5"/>
<path d="M495.6 555.7L501.90000000000003 562.0L495.6 568.3L489.3 562.0Z" fill="#f5e628" stroke="#3d3600" stroke-width="1.5"/>
<path d="M517 555.7L523.3 562.0L517 568.3L510.7 562.0Z" fill="#f5e628" stroke="#3d3600" stroke-width="1.5"/>
<line x1="596.8" y1="80.6" x2="596.8" y2="570.3" stroke="#dd6448" stroke-width="1.5"/>
<rect x="107.5" y="80.6" width="867.5" height="489.69999999999993" fill="none" stroke="#444" stroke-width="2"/>
<line x1="107.5" y1="77.6" x2="107.5" y2="80.6" stroke="#444" stroke-width="1.5"/>
<line x1="179.8" y1="77.6" x2="179.8" y2="80.6" stroke="#444" stroke-width="1.5"/>
<line x1="252.1" y1="77.6" x2="252.1" y2="80.6" stroke="#444" stroke-width="1.5"/>
<line x1="324.4" y1="77.6" x2="324.4" y2="80.6" stroke="#444" stroke-width="1.5"/>
<line x1="396.7" y1="77.6" x2="396.7" y2="80.6" stroke="#444" stroke-width="1.5"/>
<line x1="469.0" y1="77.6" x2="469.0" y2="80.6" stroke="#444" stroke-width="1.5"/>
<line x1="541.2" y1="77.6" x2="541.2" y2="80.6" stroke="#444" stroke-width="1.5"/>
<line x1="613.5" y1="77.6" x2="613.5" y2="80.6" stroke="#444" stroke-width="1.5"/>
<line x1="685.8" y1="77.6" x2="685.8" y2="80.6" stroke="#444" stroke-width="1.5"/>
<line x1="758.1" y1="77.6" x2="758.1" y2="80.6" stroke="#444" stroke-width="1.5"/>
<line x1="830.4" y1="77.6" x2="830.4" y2="80.6" stroke="#444" stroke-width="1.5"/>
<line x1="902.7" y1="77.6" x2="902.7" y2="80.6" stroke="#444" stroke-width="1.5"/>
<line x1="975.0" y1="77.6" x2="975.0" y2="80.6" stroke="#444" stroke-width="1.5"/>
<text x="84.0" y="77.6" font-size="15.6" fill="#111" textLength="47.1" lengthAdjust="spacingAndGlyphs" font-family="Liberation Sans, sans-serif">12 AM</text>
<text x="161.0" y="77.6" font-size="15.6" fill="#111" textLength="37.5" lengthAdjust="spacingAndGlyphs" font-family="Liberation Sans, sans-serif">2 AM</text>
<text x="233.3" y="77.6" font-size="15.6" fill="#111" textLength="37.5" lengthAdjust="spacingAndGlyphs" font-family="Liberation Sans, sans-serif">4 AM</text>
<text x="305.6" y="77.6" font-size="15.6" fill="#111" textLength="37.5" lengthAdjust="spacingAndGlyphs" font-family="Liberation Sans, sans-serif">6 AM</text>
<text x="377.9" y="77.6" font-size="15.6" fill="#111" textLength="37.5" lengthAdjust="spacingAndGlyphs" font-family="Liberation Sans, sans-serif">8 AM</text>
<text x="445.8" y="77.6" font-size="15.6" fill="#111" textLength="46.3" lengthAdjust="spacingAndGlyphs" font-family="Liberation Sans, sans-serif">10 AM</text>
<text x="518.1" y="77.6" font-size="15.6" fill="#111" textLength="46.3" lengthAdjust="spacingAndGlyphs" font-family="Liberation Sans, sans-serif">12 PM</text>
<text x="594.8" y="77.6" font-size="15.6" fill="#111" textLength="37.5" lengthAdjust="spacingAndGlyphs" font-family="Liberation Sans, sans-serif">2 PM</text>
<text x="667.1" y="77.6" font-size="15.6" fill="#111" textLength="37.5" lengthAdjust="spacingAndGlyphs" font-family="Liberation Sans, sans-serif">4 PM</text>
<text x="739.4" y="77.6" font-size="15.6" fill="#111" textLength="37.5" lengthAdjust="spacingAndGlyphs" font-family="Liberation Sans, sans-serif">6 PM</text>
<text x="811.7" y="77.6" font-size="15.6" fill="#111" textLength="37.5" lengthAdjust="spacingAndGlyphs" font-family="Liberation Sans, sans-serif">8 PM</text>
<text x="879.6" y="77.6" font-size="15.6" fill="#111" textLength="46.3" lengthAdjust="spacingAndGlyphs" font-family="Liberation Sans, sans-serif">10 PM</text>
<text x="951.5" y="77.6" font-size="15.6" fill="#111" textLength="47.1" lengthAdjust="spacingAndGlyphs" font-family="Liberation Sans, sans-serif">12 AM</text>
<text x="25.7" y="95.1" font-size="15.8" fill="#222" textLength="74.6" lengthAdjust="spacingAndGlyphs" font-family="Liberation Sans, sans-serif">04/04/16</text>
<text x="26" y="565.8" font-size="15.8" fill="#222" textLength="73.5" lengthAdjust="spacingAndGlyphs" font-family="Liberation Sans, sans-serif">04/25/16</text>
<path d="M598 424.5 L598 446 L603 441 L607 451 L610.5 449.5 L606.5 440 L612.5 439.5 Z" fill="#fff" stroke="#111" stroke-width="1.4" stroke-linejoin="round"/>
<!-- legend -->
<text x="19.8" y="601.2" font-size="16" font-weight="bold" fill="#111" textLength="280.7" lengthAdjust="spacingAndGlyphs" font-family="Liberation Sans, sans-serif">Maximum queue length in miles</text>
<rect x="310.5" y="588.5" width="18" height="17" rx="1.5" fill="url(#cb)" stroke="#8a8a8a" stroke-width="1.3"/>
<text x="337" y="603.3" font-size="15.8" fill="#222" textLength="74.7" lengthAdjust="spacingAndGlyphs" font-family="Liberation Sans, sans-serif">Grayscale</text>
<rect x="422" y="588.5" width="18" height="17" rx="1.5" fill="url(#cb)" stroke="#8a8a8a" stroke-width="1.3"/>
<path d="M426.7 596.8 L432.2 603 L440.7 588.3" fill="none" stroke="#333" stroke-width="2.1"/>
<text x="448.2" y="603.6" font-size="15.8" fill="#222" textLength="111.5" lengthAdjust="spacingAndGlyphs" font-family="Liberation Sans, sans-serif">Compact View</text>
<text x="893.3" y="603.2" font-size="15.8" fill="#3c3cd6" textLength="88.9" lengthAdjust="spacingAndGlyphs" font-family="Liberation Sans, sans-serif">con Legend</text>
<line x1="893.3" y1="605.8" x2="982.2" y2="605.8" stroke="#6a6ae0" stroke-width="1"/>
<text x="21.5" y="633.3" font-size="16.5" fill="#222" font-family="Liberation Sans, sans-serif">0</text>
<!-- bar -->
<filter id="blur" x="-5%" y="-50%" width="110%" height="200%"><feGaussianBlur stdDeviation="1.4"/></filter><rect x="45.5" y="620" width="953" height="15.5" rx="7.7" fill="#000" opacity="0.6" filter="url(#blur)"/>
<clipPath id="barclip"><rect x="44" y="618" width="953" height="15.4" rx="7.7"/></clipPath>
<g clip-path="url(#barclip)">
<rect x="44" y="618" width="196.8" height="15" fill="#55a896"/>
<rect x="240.8" y="618" width="280" height="15" fill="#4472c4"/>
<rect x="520.8" y="618" width="279.7" height="15" fill="#5b2c91"/>
<rect x="800.5" y="618" width="198" height="15" fill="#8b2260"/>
</g>
<rect x="44" y="618" width="953" height="15.4" rx="7.7" fill="none" stroke="#1e1420" stroke-width="1.7"/>
<line x1="240.8" y1="615.5" x2="240.8" y2="633" stroke="#111" stroke-width="1.5"/>
<path d="M231.20000000000002 670.3 L231.20000000000002 639.7 L240.8 632.5 L250.4 639.7 L250.4 670.3 Z" fill="#4472c4" stroke="#1c2030" stroke-width="1.5" stroke-linejoin="round"/>
<line x1="231.8" y1="639.7" x2="249.8" y2="639.7" stroke="#1c2030" stroke-width="1.2"/>
<text x="240.8" y="659.8" text-anchor="middle" font-size="17" font-weight="bold" fill="#f4f4ff" font-family="Liberation Sans, sans-serif">2</text>
<line x1="520.8" y1="615.5" x2="520.8" y2="633" stroke="#111" stroke-width="1.5"/>
<path d="M511.19999999999993 670.3 L511.19999999999993 639.7 L520.8 632.5 L530.4 639.7 L530.4 670.3 Z" fill="#5b2c91" stroke="#1c2030" stroke-width="1.5" stroke-linejoin="round"/>
<line x1="511.79999999999995" y1="639.7" x2="529.8" y2="639.7" stroke="#1c2030" stroke-width="1.2"/>
<text x="520.8" y="659.8" text-anchor="middle" font-size="17" font-weight="bold" fill="#f4f4ff" font-family="Liberation Sans, sans-serif">5</text>
<line x1="800.5" y1="615.5" x2="800.5" y2="633" stroke="#111" stroke-width="1.5"/>
<path d="M790.9 670.3 L790.9 639.7 L800.5 632.5 L810.1 639.7 L810.1 670.3 Z" fill="#8b2260" stroke="#1c2030" stroke-width="1.5" stroke-linejoin="round"/>
<line x1="791.5" y1="639.7" x2="809.5" y2="639.7" stroke="#1c2030" stroke-width="1.2"/>
<text x="800.5" y="659.8" text-anchor="middle" font-size="17" font-weight="bold" fill="#f4f4ff" font-family="Liberation Sans, sans-serif">8</text>
<rect x="596.5" y="477" width="296" height="133" rx="9" fill="#fff" stroke="#7db3ec" stroke-width="1.8"/>
<text x="604.6" y="497" font-size="13.9" font-weight="bold" fill="#111" textLength="64.4" lengthAdjust="spacingAndGlyphs" font-family="Liberation Sans, sans-serif">Element</text>
<text x="604.6" y="517" font-size="13.9" fill="#222" textLength="42" lengthAdjust="spacingAndGlyphs" font-family="Liberation Sans, sans-serif">From:</text>
<text x="652.6" y="517" font-size="13.9" font-weight="bold" fill="#111" textLength="222.4" lengthAdjust="spacingAndGlyphs" font-family="Liberation Sans, sans-serif">Tue, Apr 19, 2016 12:39 PM</text>
<text x="604.6" y="536.8" font-size="13.9" fill="#222" textLength="22" lengthAdjust="spacingAndGlyphs" font-family="Liberation Sans, sans-serif">To:</text>
<text x="633.4" y="536.8" font-size="13.9" font-weight="bold" fill="#111" textLength="211.6" lengthAdjust="spacingAndGlyphs" font-family="Liberation Sans, sans-serif">Tue, Apr 19, 2016 1:43 PM</text>
<text x="604.6" y="557" font-size="13.9" fill="#222" textLength="66.4" lengthAdjust="spacingAndGlyphs" font-family="Liberation Sans, sans-serif">Duration:</text>
<text x="678" y="557" font-size="13.9" font-weight="bold" fill="#111" textLength="69" lengthAdjust="spacingAndGlyphs" font-family="Liberation Sans, sans-serif">1 h 04 m</text>
<text x="604.6" y="576.8" font-size="13.9" fill="#222" textLength="133.4" lengthAdjust="spacingAndGlyphs" font-family="Liberation Sans, sans-serif">Max queue length:</text>
<text x="744" y="576.8" font-size="13.9" font-weight="bold" fill="#111" textLength="82.4" lengthAdjust="spacingAndGlyphs" font-family="Liberation Sans, sans-serif">5.76 miles</text>
<text x="604.6" y="596.8" font-size="13.9" fill="#222" textLength="54.8" lengthAdjust="spacingAndGlyphs" font-family="Liberation Sans, sans-serif">Impact:</text>
<text x="666" y="596.8" font-size="13.9" font-weight="bold" fill="#111" textLength="54.6" lengthAdjust="spacingAndGlyphs" font-family="Liberation Sans, sans-serif">346.33</text>
</svg>
</body></html>
